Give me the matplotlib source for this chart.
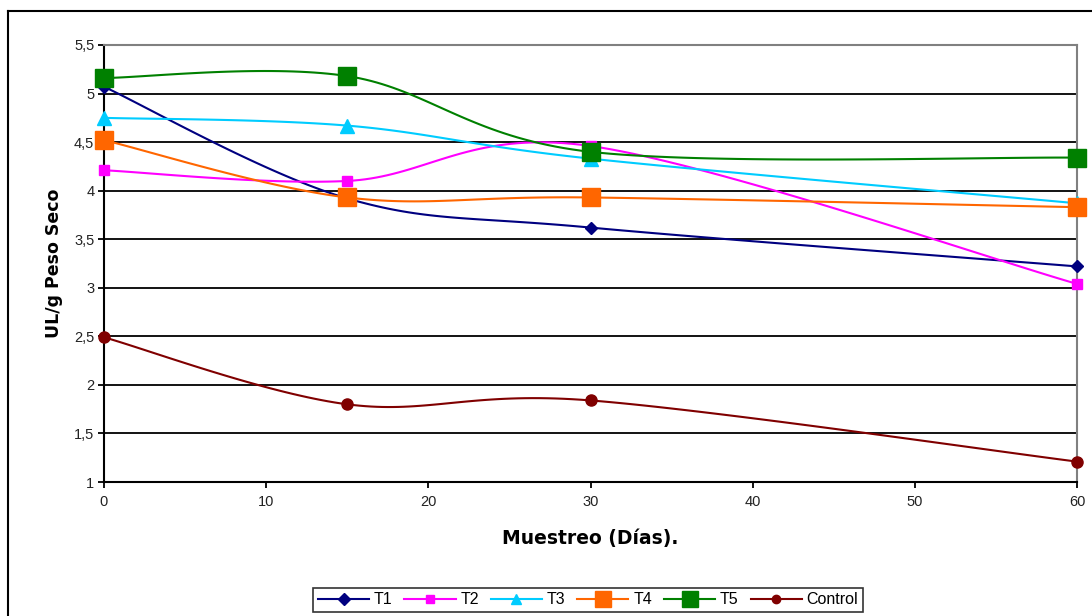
import numpy as np
import matplotlib
matplotlib.use("Agg")
import matplotlib.pyplot as plt
from matplotlib.lines import Line2D

days = [0, 15, 30, 60]
t1 = [5.07, 3.92, 3.62, 3.22]
t2 = [4.21, 4.10, 4.46, 3.04]
t3 = [4.75, 4.67, 4.33, 3.87]
t4 = [4.52, 3.93, 3.93, 3.83]
t5 = [5.16, 5.18, 4.40, 4.34]
control = [2.49, 1.80, 1.84, 1.21]
series_names = ["T1", "T2", "T3", "T4", "T5", "Control"]
y_ticks = [1, 1.5, 2, 2.5, 3, 3.5, 4, 4.5, 5, 5.5]
y_tick_labels = ["1", "1,5", "2", "2,5", "3", "3,5", "4", "4,5", "5", "5,5"]
x_ticks = [0, 10, 20, 30, 40, 50, 60]

plt.rcParams['font.family'] = ['Liberation Sans', 'DejaVu Sans']


def smooth(xs, ys, n=40):
    # Excel-like smoothing: Catmull-Rom as cubic Bezier through the points
    P = np.column_stack([xs, ys]).astype(float)
    P_ext = np.vstack([P[0], P, P[-1]])
    out = []
    for i in range(1, len(P_ext) - 2):
        p0, p1, p2, p3 = P_ext[i - 1], P_ext[i], P_ext[i + 1], P_ext[i + 2]
        c1 = p1 + (p2 - p0) / 6.0
        c2 = p2 - (p3 - p1) / 6.0
        t = np.linspace(0, 1, n)[:, None]
        seg = ((1 - t) ** 3) * p1 + 3 * ((1 - t) ** 2) * t * c1 + 3 * (1 - t) * t ** 2 * c2 + t ** 3 * p2
        out.append(seg if i == 1 else seg[1:])
    s = np.vstack(out)
    return s[:, 0], s[:, 1]


fig = plt.figure(figsize=(10.92, 6.16), dpi=100)
ax = fig.add_axes([104 / 1092, 1 - 482 / 616, (1077 - 104) / 1092, (482 - 45) / 616])

styles = [
    dict(color="#000080", marker="D", ms=6.5),
    dict(color="#FF00FF", marker="s", ms=7.5),
    dict(color="#00CCFF", marker="^", ms=9.5),
    dict(color="#FF6600", marker="s", ms=13.5),
    dict(color="#008000", marker="s", ms=13.5),
    dict(color="#800000", marker="o", ms=8),
]
data = [t1, t2, t3, t4, t5, control]

for i, (ys, st, name) in enumerate(zip(data, styles, series_names)):
    sx, sy = smooth(days, ys)
    ax.plot(sx, sy, color=st["color"], lw=1.5, zorder=3 + i, clip_on=False)
    ax.plot(days, ys, linestyle="none", marker=st["marker"], ms=st["ms"],
            color=st["color"], mec=st["color"], zorder=10 + i, clip_on=False)

ax.set_xlim(0, 60)
ax.set_ylim(1, 5.5)
ax.set_yticks(y_ticks)
ax.set_yticklabels(y_tick_labels)
ax.set_xticks(x_ticks)
for y in y_ticks[1:-1]:
    ax.axhline(y, color="black", lw=1.3, zorder=1)

for side in ["left", "bottom"]:
    ax.spines[side].set_color("black")
    ax.spines[side].set_linewidth(1.5)
for side in ["top", "right"]:
    ax.spines[side].set_color("#808080")
    ax.spines[side].set_linewidth(1.5)

ax.tick_params(axis="both", direction="out", length=4, width=1.3, labelsize=10.5,
               colors="black", labelcolor="#222222")
ax.tick_params(axis="y", pad=3)
ax.tick_params(axis="x", pad=5)

ax.set_xlabel("Muestreo (Días).", fontsize=13.5, fontweight="bold", labelpad=15,
              family="DejaVu Sans")
ax.set_ylabel("UL/g Peso Seco", fontsize=12.5, fontweight="bold", labelpad=8,
              family="DejaVu Sans")

handles = []
leg_ms = [6, 6, 7, 11, 11, 6]
for st, name, ms in zip(styles, series_names, leg_ms):
    handles.append(Line2D([0], [0], color=st["color"], lw=1.5, marker=st["marker"],
                          ms=ms, mec=st["color"], label=name))
leg = fig.legend(handles=handles, loc="center", bbox_to_anchor=(588 / 1092, 1 - 600 / 616),
                 ncol=6, frameon=True, fontsize=11.5, handlelength=3.2, handletextpad=0.3,
                 columnspacing=0.75, borderpad=0.3, fancybox=False)
leg.get_frame().set_edgecolor("black")
leg.get_frame().set_linewidth(1.2)

# outer chart frame
fig.add_artist(Line2D([8 / 1092, 1.0], [1 - 11 / 616, 1 - 11 / 616], color="black", lw=1.5,
                      transform=fig.transFigure))
fig.add_artist(Line2D([8 / 1092, 8 / 1092], [1 - 11 / 616, 0.0], color="black", lw=1.5,
                      transform=fig.transFigure))

fig.savefig("out.png", dpi=100)
